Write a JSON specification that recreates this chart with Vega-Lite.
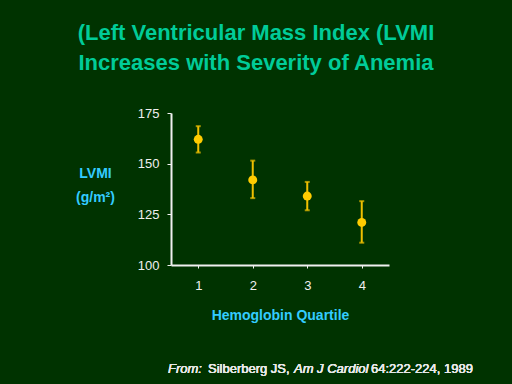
{
  "$schema": "https://vega.github.io/schema/vega-lite/v6.json",
  "autosize": {"type": "none"},
  "width": 218,
  "height": 152,
  "padding": {"left": 171, "top": 113, "right": 123, "bottom": 119},
  "background": "#003300",
  "title": {
    "text": ["(Left Ventricular Mass Index (LVMI", "Increases with Severity of Anemia"],
    "font": "Liberation Sans, Arial",
    "fontSize": 22,
    "fontWeight": "bold",
    "color": "#00cc99",
    "anchor": "middle",
    "frame": "group",
    "dx": -24,
    "lineHeight": 30,
    "offset": 32
  },
  "config": {
    "view": {"stroke": null},
    "font": "Liberation Sans, Arial"
  },
  "data": {
    "values": [
      {"q": 1, "mean": 162, "lo": 155.5, "hi": 168.5},
      {"q": 2, "mean": 142, "lo": 133, "hi": 151.5},
      {"q": 3, "mean": 134, "lo": 127, "hi": 141},
      {"q": 4, "mean": 121, "lo": 111, "hi": 131.5}
    ]
  },
  "layer": [
    {
      "mark": {"type": "rule", "color": "#f0c000", "strokeWidth": 2},
      "encoding": {
        "x": {
          "field": "q", "type": "quantitative",
          "scale": {"domain": [0.5, 4.5], "nice": false, "zero": false},
          "axis": {
            "values": [1, 2, 3, 4], "format": "d", "grid": false,
            "domainColor": "#f0f0f0", "domainWidth": 2,
            "tickColor": "#f0f0f0", "tickSize": 3, "tickWidth": 1,
            "labelColor": "#f0f0f0", "labelFontSize": 13, "labelPadding": 11,
            "title": "Hemoglobin Quartile",
            "titleColor": "#33ccff", "titleFontSize": 14, "titleFontWeight": "bold",
            "titlePadding": 16
          }
        },
        "y": {
          "field": "lo", "type": "quantitative",
          "scale": {"domain": [100, 175], "nice": false, "zero": false},
          "axis": {
            "values": [100, 125, 150, 175], "grid": false,
            "domainColor": "#f0f0f0", "domainWidth": 2,
            "tickColor": "#f0f0f0", "tickSize": 4, "tickWidth": 1,
            "labelColor": "#f0f0f0", "labelFontSize": 13, "labelPadding": 8,
            "title": ["LVMI", "(g/m²)"],
            "titleColor": "#33ccff", "titleFontSize": 14, "titleFontWeight": "bold",
            "titleAngle": 0, "titleAlign": "center", "titleBaseline": "middle",
            "titleLineHeight": 24,
            "titleX": -76, "titleY": 60
          }
        },
        "y2": {"field": "hi"}
      }
    },
    {
      "mark": {"type": "tick", "color": "#f0c000", "thickness": 2, "size": 5, "orient": "horizontal"},
      "encoding": {
        "x": {"field": "q", "type": "quantitative"},
        "y": {"field": "lo", "type": "quantitative"}
      }
    },
    {
      "mark": {"type": "tick", "color": "#f0c000", "thickness": 2, "size": 5, "orient": "horizontal"},
      "encoding": {
        "x": {"field": "q", "type": "quantitative"},
        "y": {"field": "hi", "type": "quantitative"}
      }
    },
    {
      "mark": {"type": "point", "filled": true, "color": "#ffcc00", "size": 80, "opacity": 1},
      "encoding": {
        "x": {"field": "q", "type": "quantitative"},
        "y": {"field": "mean", "type": "quantitative"}
      }
    },
    {
      "mark": {"type": "text", "text": "From:", "fontStyle": "italic", "fontSize": 13, "color": "#e8e8e8", "align": "left", "baseline": "alphabetic"},
      "encoding": {"x": {"datum": 0.445, "type": "quantitative"}, "y": {"datum": 46.7, "type": "quantitative"}}
    },
    {
      "mark": {"type": "text", "text": "Silberberg JS,", "fontSize": 13, "color": "#e8e8e8", "align": "left", "baseline": "alphabetic"},
      "encoding": {"x": {"datum": 1.179, "type": "quantitative"}, "y": {"datum": 46.7, "type": "quantitative"}}
    },
    {
      "mark": {"type": "text", "text": "Am J Cardiol", "fontStyle": "italic", "fontSize": 13, "color": "#e8e8e8", "align": "left", "baseline": "alphabetic"},
      "encoding": {"x": {"datum": 2.757, "type": "quantitative"}, "y": {"datum": 46.7, "type": "quantitative"}}
    },
    {
      "mark": {"type": "text", "text": "64:222-224, 1989", "fontSize": 13, "color": "#e8e8e8", "align": "left", "baseline": "alphabetic"},
      "encoding": {"x": {"datum": 4.17, "type": "quantitative"}, "y": {"datum": 46.7, "type": "quantitative"}}
    }
  ]
}
